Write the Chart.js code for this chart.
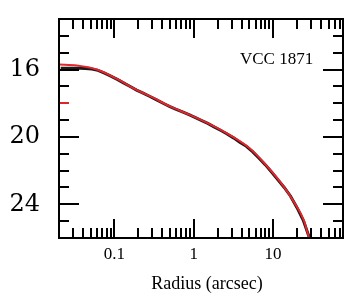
<!DOCTYPE html>
<html>
<head>
<meta charset="utf-8">
<script src="https://cdn.jsdelivr.net/npm/chart.js@4.4.1/dist/chart.umd.min.js"></script>
<style>
  html, body { margin: 0; padding: 0; background: #ffffff; }
  #wrap { position: relative; width: 355px; height: 300px; }
</style>
</head>
<body>
<div id="wrap"><canvas id="profile"></canvas></div>
<script>
// Données (rayon en arcsec, brillance de surface en mag)
const dataRadius = [0.021, 0.025, 0.030, 0.036, 0.043, 0.052, 0.062, 0.075, 0.09, 0.11, 0.13, 0.16, 0.19, 0.23, 0.28, 0.34, 0.41, 0.5, 0.6, 0.72, 0.87, 1.05, 1.26, 1.5, 1.8, 2.2, 2.6, 3.2, 3.8, 4.6, 5.5, 6.6, 8.0, 9.6, 11.5, 13.8, 16.6, 20, 24, 28.5, 31];
const dataMu     = [15.92, 15.92, 15.92, 15.93, 15.94, 15.97, 16.05, 16.22, 16.39, 16.6, 16.79, 17.02, 17.22, 17.4, 17.6, 17.8, 18.0, 18.2, 18.36, 18.52, 18.68, 18.86, 19.03, 19.2, 19.4, 19.62, 19.81, 20.07, 20.31, 20.56, 20.87, 21.25, 21.66, 22.1, 22.55, 23.0, 23.52, 24.2, 24.95, 25.95, 26.6];

// Ajustement (courbe rouge)
const fitRadius = [0.02, 0.0335, 0.06, 0.106, 0.188, 0.307, 0.501, 0.891, 1.585, 2.82, 5.01, 7.72, 13.7, 18.3, 24.4, 28.2, 31];
const fitMu     = [15.70, 15.76, 16.0, 16.54, 17.19, 17.67, 18.19, 18.69, 19.24, 19.88, 20.66, 21.55, 22.96, 23.86, 24.95, 25.94, 26.5];

// Graduations étiquetées
const xTickLabels = [0.1, 1, 10];
const yTickLabels = [16, 20, 24];

const galaxyName = 'VCC 1871';

/**
 * Cadre + graduations tournées vers l'intérieur, des quatre côtés
 */
const framePlugin = {
    id: 'frame',
    afterDraw(chart) {
        const { ctx, chartArea: a, scales } = chart;
        const xs = scales.x, ys = scales.y;
        ctx.save();
        ctx.strokeStyle = '#000';
        ctx.lineWidth = 2;

        // axe x : mineures 1..9 par décade
        [0.01, 0.1, 1, 10].forEach(dec => {
            for (let k = 1; k <= 9; k++) {
                const v = dec * k;
                if (v <= xs.min || v >= xs.max) continue;
                const px = Math.round(xs.getPixelForValue(v));
                const len = k === 1 ? 19 : 10;
                ctx.beginPath();
                ctx.moveTo(px, a.bottom); ctx.lineTo(px, a.bottom - len);
                ctx.moveTo(px, a.top); ctx.lineTo(px, a.top + len);
                ctx.stroke();
            }
        });

        // axe y : une graduation par magnitude
        for (let m = 14; m <= 25; m++) {
            const py = Math.round(ys.getPixelForValue(m));
            const len = yTickLabels.includes(m) ? 20 : 10;
            ctx.strokeStyle = m === 18 ? '#e0232a' : '#000';
            ctx.beginPath();
            ctx.moveTo(a.left, py); ctx.lineTo(a.left + len, py);
            ctx.stroke();
            ctx.strokeStyle = '#000';
            ctx.beginPath();
            ctx.moveTo(a.right, py); ctx.lineTo(a.right - len, py);
            ctx.stroke();
        }

        ctx.lineWidth = 2;
        ctx.strokeRect(a.left, a.top, a.right - a.left, a.bottom - a.top);

        // nom de la galaxie
        ctx.fillStyle = '#000';
        ctx.font = '17px "Liberation Serif"';
        ctx.textBaseline = 'middle';
        ctx.textAlign = 'left';
        ctx.fillText(galaxyName, 240, 60);

        // titre de l'axe x
        ctx.textAlign = 'center';
        ctx.font = '18px "Liberation Serif"';
        ctx.fillText('Radius (arcsec)', 207, 284);
        ctx.restore();
    }
};

function renderProfile() {
    const ctx = document.getElementById('profile').getContext('2d');

    new Chart(ctx, {
        type: 'line',
        data: {
            datasets: [
                {
                    label: 'Fit',
                    data: fitRadius.map((r, i) => ({ x: r, y: fitMu[i] })),
                    borderColor: '#e3262c',
                    borderWidth: 2,
                    pointRadius: 0,
                    cubicInterpolationMode: 'monotone',
                    order: 1,
                },
                {
                    label: 'Data',
                    data: dataRadius.map((r, i) => ({ x: r, y: dataMu[i] })),
                    borderColor: '#1a1a1a',
                    borderWidth: 3,
                    pointRadius: 0,
                    tension: 0,
                    order: 2,
                },
            ]
        },
        options: {
            responsive: false,
            animation: false,
            layout: { padding: { left: 9, right: 12, top: 19, bottom: 0 } },
            plugins: {
                legend: { display: false },
                tooltip: { enabled: false },
            },
            scales: {
                x: {
                    type: 'logarithmic',
                    min: 0.02,
                    max: 76,
                    grid: { display: false, drawTicks: false },
                    border: { display: false },
                    afterBuildTicks: scale => { scale.ticks = xTickLabels.map(v => ({ value: v })); },
                    afterFit: scale => { scale.height = 62; scale.paddingLeft = 0; scale.paddingRight = 0; },
                    ticks: {
                        color: '#000',
                        padding: 6,
                        maxRotation: 0,
                        autoSkip: false,
                        font: { family: 'Liberation Serif', size: 17 },
                        callback: v => String(v),
                    },
                },
                y: {
                    type: 'linear',
                    reverse: true,
                    min: 13,
                    max: 26,
                    grid: { display: false, drawTicks: false },
                    border: { display: false },
                    afterBuildTicks: scale => { scale.ticks = yTickLabels.map(v => ({ value: v })); },
                    afterFit: scale => { scale.width = 50; scale.paddingTop = 0; scale.paddingBottom = 0; },
                    ticks: {
                        color: '#000',
                        padding: 19,
                        autoSkip: false,
                        font: { family: 'DejaVu Serif', size: 24 },
                    },
                },
            }
        },
        plugins: [framePlugin]
    });
}

const cv = document.getElementById('profile');
cv.width = 355;
cv.height = 300;
renderProfile();
</script>
</body>
</html>
